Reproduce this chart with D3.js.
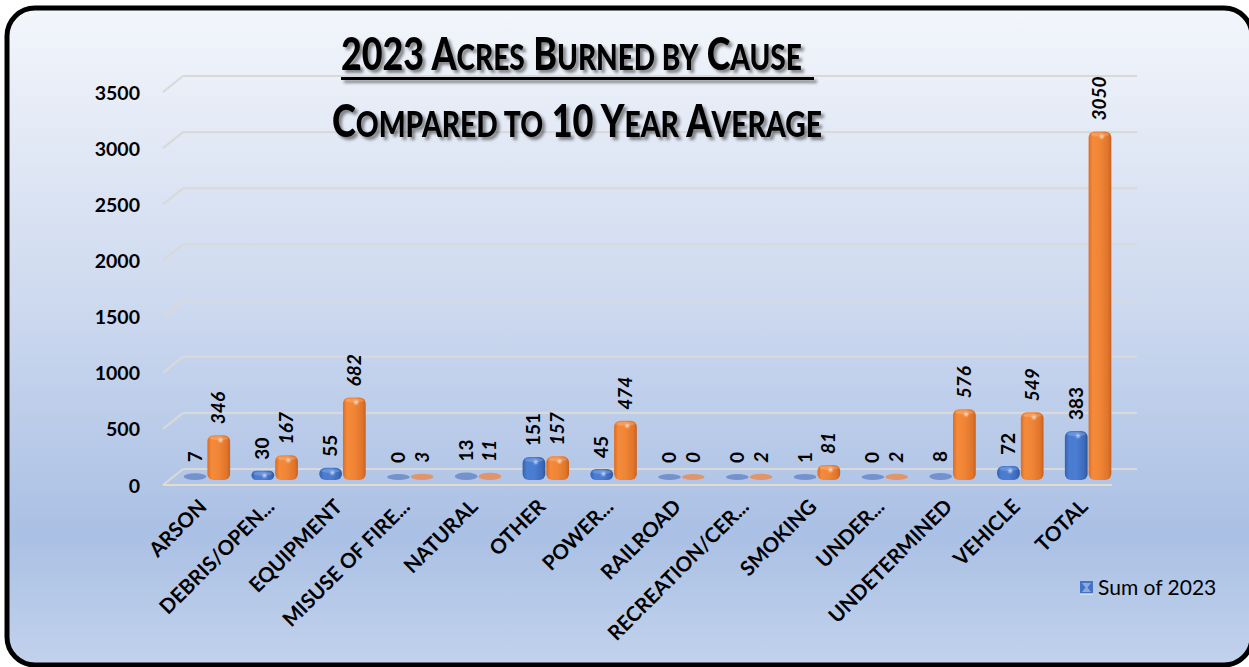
<!DOCTYPE html>
<html>
<head>
<meta charset="utf-8">
<script src="https://cdn.jsdelivr.net/npm/d3@7"></script>
<style>
  html, body { margin: 0; padding: 0; background: #ffffff; }
  svg { display: block; }
  text { font-family: Lato, "Open Sans", sans-serif; }
</style>
</head>
<body>
<svg id="chart" width="1249" height="667"></svg>
<script>
// Acres burned in 2023 by cause, with the 10-year average for each cause
const categories = ["ARSON", "DEBRIS/OPEN...", "EQUIPMENT", "MISUSE OF FIRE...", "NATURAL", "OTHER",
  "POWER...", "RAILROAD", "RECREATION/CER...", "SMOKING", "UNDER...", "UNDETERMINED", "VEHICLE", "TOTAL"];
const sum2023 = [7, 30, 55, 0, 13, 151, 45, 0, 0, 1, 0, 8, 72, 383];
const avg10yr = [346, 167, 682, 3, 11, 157, 474, 0, 2, 81, 2, 576, 549, 3050];
const yTicks = [0, 500, 1000, 1500, 2000, 2500, 3000, 3500];
const seriesKeys = ["2023", "avg"];
const legendLabel = "Sum of 2023";

const W = 1249, H = 667;
const svg = d3.select("#chart");
const defs = svg.append("defs");

// background gradient
const bg = defs.append("linearGradient").attr("id", "bg").attr("x1", 0).attr("y1", 0).attr("x2", 0).attr("y2", 1);
[[0, "#f3f6fb"], [0.45, "#cdd9ef"], [0.8, "#aac0e4"], [1, "#c1d2ec"]]
  .forEach(([o, c]) => bg.append("stop").attr("offset", o).attr("stop-color", c));

// bar body gradients (horizontal shading for a rounded, cylindrical look)
function barGradient(id, stops) {
  const g = defs.append("linearGradient").attr("id", id).attr("x1", 0).attr("y1", 0).attr("x2", 1).attr("y2", 0);
  stops.forEach(([o, c]) => g.append("stop").attr("offset", o).attr("stop-color", c));
}
barGradient("g2023", [[0, "#3461ad"], [0.18, "#4a7ccf"], [0.5, "#4a7dd3"], [0.85, "#3c6bbd"], [1, "#2d569c"]]);
barGradient("gavg", [[0, "#dc6c25"], [0.18, "#f48a3b"], [0.5, "#f08536"], [0.85, "#e0752b"], [1, "#c6611f"]]);

const shadow = defs.append("filter").attr("id", "tshadow").attr("x", "-5%").attr("y", "-20%").attr("width", "110%").attr("height", "150%");
shadow.append("feDropShadow").attr("dx", 3).attr("dy", 3).attr("stdDeviation", 1.6)
  .attr("flood-color", "#000").attr("flood-opacity", 0.45);

const glow = defs.append("filter").attr("id", "glow").attr("x", "-100%").attr("y", "-100%").attr("width", "300%").attr("height", "300%");
glow.append("feGaussianBlur").attr("stdDeviation", 1.1);

// frame
svg.append("rect").attr("x", 7).attr("y", 8).attr("width", 1245).attr("height", 657)
  .attr("rx", 28).attr("ry", 28).attr("fill", "url(#bg)").attr("stroke", "#000").attr("stroke-width", 5);

// scales (bars sit on the middle depth plane; walls are offset by DX, DY)
const DX = 10, DY = 8;
const x = d3.scaleBand().domain(categories).range([173, 1122]).paddingInner(0.3).paddingOuter(0.15);
const sub = d3.scaleBand().domain(seriesKeys).range([0, x.bandwidth()]);
const y = d3.scaleLinear().domain([0, 3500]).range([477, 84]);

const xL = x.range()[0], xR = x.range()[1];

// wall gridlines with a short diagonal on the side wall
const grid = svg.append("g").attr("stroke", "#d9d9d9").attr("stroke-width", 2.2).attr("fill", "none");
yTicks.forEach(t => {
  grid.append("line").attr("x1", xL + DX).attr("x2", xR + DX + 5).attr("y1", y(t) - DY).attr("y2", y(t) - DY);
  grid.append("line").attr("x1", xL - DX).attr("y1", y(t) + DY).attr("x2", xL + DX).attr("y2", y(t) - DY);
});
// front edge of the floor
svg.append("line").attr("x1", xL - DX).attr("x2", xR - DX).attr("y1", y(0) + DY).attr("y2", y(0) + DY)
  .attr("stroke", "#e3dccb").attr("stroke-width", 2.2);

// y axis labels
svg.append("g").selectAll("text").data(yTicks).join("text")
  .attr("x", 140).attr("y", t => y(t) + DY).attr("text-anchor", "end").attr("dominant-baseline", "central")
  .attr("font-size", 19.5).attr("font-weight", 700).attr("fill", "#000").text(t => t);

// bars
const rows = categories.map((c, i) => ({ c, vals: [{ k: "2023", v: sum2023[i] }, { k: "avg", v: avg10yr[i] }] }));
const paleFill = { "2023": "#7492cb", "avg": "#e0966a" };
const gBars = svg.append("g");
rows.forEach(r => {
  r.vals.forEach(d => {
    const x0 = x(r.c) + sub(d.k) + 0.5;
    const w = sub.bandwidth() - 1;
    const top = y(d.v) - 3;
    const bottom = y(0) + 3;
    const h = bottom - top;
    if (y(0) - y(d.v) < 3) {
      // almost no height: only the flattened top face shows
      gBars.append("ellipse").attr("cx", x0 + w / 2).attr("cy", (top + bottom) / 2)
        .attr("rx", w / 2).attr("ry", Math.max(3, h / 2)).attr("fill", paleFill[d.k]);
    } else {
      const r0 = Math.min(6, h / 2);
      gBars.append("rect").attr("x", x0).attr("y", top).attr("width", w).attr("height", h)
        .attr("rx", r0).attr("ry", r0).attr("fill", `url(#g${d.k})`);
      gBars.append("ellipse").attr("cx", x0 + w / 2).attr("cy", top + 3).attr("rx", w / 2 - 2).attr("ry", 2)
        .attr("fill", "#fff").attr("opacity", 0.18);
      gBars.append("circle").attr("cx", x0 + w * 0.58).attr("cy", top + 5).attr("r", 1.6)
        .attr("fill", "#fff").attr("filter", "url(#glow)");
    }
    // value label
    gBars.append("text")
      .attr("transform", `translate(${x0 + w / 2 - 1},${top - 11}) rotate(-90)`)
      .attr("text-anchor", "start").attr("dominant-baseline", "central")
      .attr("font-size", 19).attr("font-weight", 700)
      .attr("font-style", d.k === "avg" ? "italic" : "normal")
      .attr("fill", "#000").text(d.v);
  });
});

// category labels
svg.append("g").selectAll("text").data(categories).join("text")
  .attr("transform", c => `translate(${x(c) + x.bandwidth() / 2 + 1},${508}) rotate(-45)`)
  .attr("text-anchor", "end").attr("font-size", 20.5).attr("font-weight", 700).attr("fill", "#000")
  .text(c => c);

// legend
const lg = svg.append("g").attr("transform", "translate(1080,581)");
lg.append("rect").attr("width", 13).attr("height", 13).attr("fill", "#4472c4");
lg.append("path").attr("d", "M2,2 L11,2 L7.5,6.5 L11,11 L2,11 L5.5,6.5 Z").attr("fill", "#8eaadb");
lg.append("line").attr("x1", 0).attr("x2", 13).attr("y1", 13).attr("y2", 13).attr("stroke", "#e8eef8").attr("stroke-width", 1.2);
lg.append("text").attr("x", 18).attr("y", 13.5).attr("font-size", 21).attr("fill", "#000")
  .text(legendLabel);

// title, drawn in small capitals
const titleLines = [
  { parts: [["2023 A", 1], ["CRES", 0], [" B", 1], ["URNED BY", 0], [" C", 1], ["AUSE", 0]], y: 70, width: 461, left: 341, underline: true },
  { parts: [["C", 1], ["OMPARED TO", 0], [" 10 Y", 1], ["EAR", 0], [" A", 1], ["VERAGE", 0]], y: 137, width: 490, left: 332, underline: false }
];
const gTitle = svg.append("g").attr("filter", "url(#tshadow)");
titleLines.forEach(L => {
  const g = gTitle.append("g");
  const t = g.append("text").attr("x", 0).attr("y", 0).attr("font-weight", 900).attr("fill", "#000");
  L.parts.forEach(([s, big]) => t.append("tspan").attr("font-size", big ? 46 : 36).text(s));
  const bw = t.node().getComputedTextLength();
  const s = L.width / bw;
  g.attr("transform", `translate(${L.left},${L.y}) scale(${s},1)`);
  if (L.underline) {
    gTitle.append("rect").attr("x", L.left).attr("y", L.y + 7).attr("width", L.width + 12).attr("height", 3).attr("fill", "#000");
  }
});
</script>
</body>
</html>
